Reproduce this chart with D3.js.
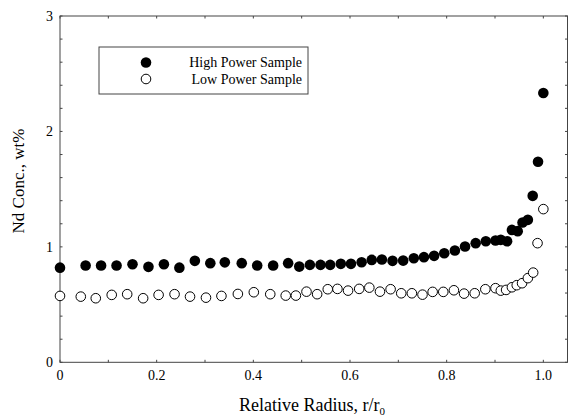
<!DOCTYPE html>
<html lang="en">
<head>
<meta charset="utf-8">
<title>Nd Conc. vs Relative Radius</title>
<script src="https://cdn.jsdelivr.net/npm/d3@7"></script>
<style>
  body { margin: 0; background: #fff; }
</style>
</head>
<body>
<div id="chart"></div>
<script>
// high power sample (filled)
var hiX = [0, 0.053, 0.085, 0.117, 0.150, 0.183, 0.215, 0.247, 0.279, 0.311, 0.341, 0.376, 0.408, 0.441, 0.472,
           0.495, 0.517, 0.539, 0.559, 0.581, 0.602, 0.624, 0.645, 0.666, 0.688, 0.710, 0.732, 0.753, 0.774,
           0.795, 0.817, 0.838, 0.860, 0.881, 0.901, 0.912, 0.925, 0.935, 0.947, 0.957, 0.968, 0.978, 0.989, 1.0];
var hiY = [0.82, 0.838, 0.838, 0.838, 0.85, 0.827, 0.85, 0.82, 0.879, 0.859, 0.866, 0.859, 0.838, 0.838, 0.859,
           0.829, 0.844, 0.844, 0.844, 0.853, 0.853, 0.867, 0.887, 0.89, 0.879, 0.881, 0.902, 0.911, 0.922,
           0.945, 0.968, 1.003, 1.032, 1.049, 1.055, 1.061, 1.049, 1.147, 1.136, 1.211, 1.234, 1.442, 1.737, 2.333];
// low power sample (open)
var loX = [0, 0.043, 0.074, 0.107, 0.139, 0.172, 0.204, 0.237, 0.269, 0.302, 0.334, 0.368, 0.401, 0.435, 0.467,
           0.488, 0.510, 0.532, 0.554, 0.574, 0.596, 0.619, 0.640, 0.662, 0.684, 0.706, 0.728, 0.750, 0.771,
           0.793, 0.815, 0.836, 0.858, 0.880, 0.901, 0.912, 0.923, 0.935, 0.945, 0.956, 0.968, 0.979, 0.988, 1.0];
var loY = [0.575, 0.569, 0.555, 0.584, 0.59, 0.555, 0.584, 0.59, 0.569, 0.56, 0.575, 0.592, 0.607, 0.59, 0.578,
           0.578, 0.612, 0.59, 0.633, 0.636, 0.621, 0.636, 0.647, 0.612, 0.633, 0.598, 0.598, 0.586, 0.61,
           0.61, 0.624, 0.595, 0.598, 0.633, 0.642, 0.621, 0.627, 0.65, 0.668, 0.685, 0.729, 0.777, 1.032, 1.327];

var xMajor = [0, 0.2, 0.4, 0.6, 0.8, 1.0];
var xMajorLabels = ["0", "0.2", "0.4", "0.6", "0.8", "1.0"];
var yMajor = [0, 1, 2, 3];
var legendNames = ["High Power Sample", "Low Power Sample"];

var w = 568, h = 420;
var font = "'Liberation Serif', 'DejaVu Serif', serif";
var svg = d3.select("#chart").append("svg")
            .attr("width", w)
            .attr("height", h)
            .attr("font-family", font)
            .style("font-family", font);

var x = d3.scaleLinear().domain([0, 1.05]).range([60, 567.5]);
var y = d3.scaleLinear().domain([0, 3]).range([362.3, 16]);

var axisColor = "#444";

// frame
svg.append("rect")
   .attr("x", x(0)).attr("y", y(3))
   .attr("width", x(1.05) - x(0)).attr("height", y(0) - y(3))
   .attr("fill", "none").attr("stroke", axisColor).attr("stroke-width", 1);

// ticks (inward) on all four sides
var xMinor = d3.range(0, 1.05, 0.1);
var yMinor = d3.range(0, 3.01, 0.2);
svg.append("g").selectAll("line").data(xMinor).enter().append("line")
   .attr("x1", function(d){ return x(d); }).attr("x2", function(d){ return x(d); })
   .attr("y1", y(0)).attr("y2", y(0) - 2.5)
   .attr("stroke", axisColor);
svg.append("g").selectAll("line").data(xMinor).enter().append("line")
   .attr("x1", function(d){ return x(d); }).attr("x2", function(d){ return x(d); })
   .attr("y1", y(3)).attr("y2", y(3) + 2.5)
   .attr("stroke", axisColor);
svg.append("g").selectAll("line").data(yMinor).enter().append("line")
   .attr("x1", x(0)).attr("x2", x(0) + 2.5)
   .attr("y1", function(d){ return y(d); }).attr("y2", function(d){ return y(d); })
   .attr("stroke", axisColor);
svg.append("g").selectAll("line").data(yMinor).enter().append("line")
   .attr("x1", 567.5).attr("x2", 565)
   .attr("y1", function(d){ return y(d); }).attr("y2", function(d){ return y(d); })
   .attr("stroke", axisColor);

// tick labels
svg.append("g").selectAll("text").data(xMajor).enter().append("text")
   .attr("x", function(d){ return x(d); })
   .attr("y", 380)
   .attr("text-anchor", "middle")
   .attr("font-size", 14)
   .text(function(d, i){ return xMajorLabels[i]; });
svg.append("g").selectAll("text").data(yMajor).enter().append("text")
   .attr("x", 53)
   .attr("y", function(d){ return y(d) + 5; })
   .attr("text-anchor", "end")
   .attr("font-size", 14)
   .text(function(d){ return d; });

// axis titles
var xt = svg.append("text")
   .attr("x", 312).attr("y", 411)
   .attr("text-anchor", "middle")
   .attr("font-size", 18);
xt.append("tspan").text("Relative Radius, r/r");
xt.append("tspan").attr("dy", 4).attr("font-size", 11).text("0");

svg.append("text")
   .attr("transform", "translate(24,181) rotate(-90)")
   .attr("text-anchor", "middle")
   .attr("font-size", 17)
   .text("Nd Conc., wt%");

// points
var r = 5.3;
svg.append("g").selectAll("circle").data(loX).enter().append("circle")
   .attr("cx", function(d){ return x(d); })
   .attr("cy", function(d, i){ return y(loY[i]); })
   .attr("r", r - 0.5)
   .attr("fill", "#fff").attr("stroke", "#000").attr("stroke-width", 1);
svg.append("g").selectAll("circle").data(hiX).enter().append("circle")
   .attr("cx", function(d){ return x(d); })
   .attr("cy", function(d, i){ return y(hiY[i]); })
   .attr("r", r)
   .attr("fill", "#000");

// legend
var lg = svg.append("g");
lg.append("rect")
  .attr("x", 99).attr("y", 47).attr("width", 209).attr("height", 47)
  .attr("fill", "#fff").attr("stroke", axisColor).attr("stroke-width", 1);
lg.append("circle").attr("cx", 146).attr("cy", 62.5).attr("r", r).attr("fill", "#000");
lg.append("circle").attr("cx", 146).attr("cy", 79).attr("r", r - 0.5)
  .attr("fill", "#fff").attr("stroke", "#000");
lg.selectAll("text").data(legendNames).enter().append("text")
  .attr("x", 302)
  .attr("y", function(d, i){ return 67 + i * 16.5; })
  .attr("text-anchor", "end")
  .attr("font-size", 14)
  .text(function(d){ return d; });
</script>
</body>
</html>
